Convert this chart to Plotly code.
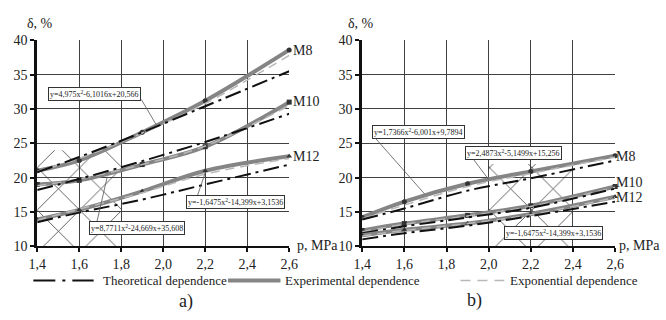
import plotly.graph_objects as go

W, H = 666, 320
FONT = "Liberation Serif"

# ---------------- data ----------------
pressure = [1.4, 1.6, 1.9, 2.2, 2.6]
grades = ["M8", "M10", "M12"]
x_ticks = [1.4, 1.6, 1.8, 2.0, 2.2, 2.4, 2.6]
x_ticktext = ["1,4", "1,6", "1,8", "2,0", "2,2", "2,4", "2,6"]
y_ticks = [10, 15, 20, 25, 30, 35, 40]

# panel a)
a_exp_M8 = [21.0, 22.5, 26.6, 31.2, 38.6]
a_exp_M10 = [19.0, 19.6, 21.9, 24.5, 31.0]
a_exp_M12 = [13.9, 15.3, 18.0, 21.0, 23.1]
a_theo_M8 = [20.8, 23.0, 26.6, 30.4, 35.5]
a_theo_M10 = [18.2, 19.8, 22.4, 25.2, 29.3]
a_theo_M12 = [13.5, 14.9, 16.8, 19.0, 21.9]
a_expo_M8 = [20.9, 22.8, 26.5, 30.8, 37.8]
a_expo_M10 = [18.8, 19.8, 21.9, 24.6, 30.5]
a_expo_M12 = [13.8, 15.4, 17.8, 20.5, 22.8]

# panel b)
b_exp_M8 = [14.2, 16.5, 19.1, 20.9, 23.2]
b_exp_M10 = [12.3, 13.3, 14.5, 15.9, 18.7]
b_exp_M12 = [11.6, 12.4, 13.3, 14.7, 17.2]
b_theo_M8 = [13.9, 15.5, 18.1, 19.9, 22.5]
b_theo_M10 = [11.9, 12.9, 14.2, 15.6, 18.4]
b_theo_M12 = [11.0, 11.9, 13.0, 14.4, 16.5]
b_expo_M8 = [14.0, 16.0, 18.7, 20.6, 23.0]
b_expo_M10 = [12.1, 13.2, 14.4, 15.8, 18.6]
b_expo_M12 = [11.5, 12.3, 13.3, 14.6, 17.1]

# hatched zones (p_min, p_max, delta_min, delta_max)
zone_a = [1.4, 1.8, 10, 24]
zone_b = [2.0, 2.4, 10, 22]

eq_a = ["y=4,975x<sup>2</sup>-6,1016x+20,566",
        "y=8,7711x<sup>2</sup>-24,669x+35,608",
        "y=-1,6475x<sup>2</sup>-14,399x+3,1536"]
eq_b = ["y=1,7366x<sup>2</sup>-6,001x+9,7894",
        "y=2,4873x<sup>2</sup>-5,1499x+15,256",
        "y=-1,6475x<sup>2</sup>-14,399x+3,1536"]

legend_names = ["Theoretical dependence", "Experimental dependence", "Exponential dependence"]

# ---------------- styles ----------------
EXP_COLOR = "#858585"
THEO_COLOR = "#111111"
EXPO_COLOR = "#b8b8b8"
THEO_DASH = "16px,5px,3px,5px"
EXPO_DASH = "9px,6px"
symbols = {"M8": "circle", "M10": "square", "M12": "triangle-up"}


def px(x):
    return x / W


def py(y):
    return 1 - y / H


fig = go.Figure()


def add_zone(zone, xa, ya):
    x0, x1, y0, y1 = zone
    fig.add_trace(go.Scatter(
        x=[x0, x1, x1, x0, x0], y=[y0, y0, y1, y1, y0],
        mode="lines", line=dict(width=0), fill="toself",
        fillcolor="rgba(255,255,255,0.01)",
        fillpattern=dict(shape="x", size=30, solidity=0.05, fgopacity=1,
                         fgcolor="#333333", bgcolor="rgba(255,255,255,0.01)"),
        xaxis=xa, yaxis=ya, showlegend=False, hoverinfo="skip"))


def add_panel(exp, theo, expo, xa, ya):
    for g, e, t, x in zip(grades, exp, theo, expo):
        fig.add_trace(go.Scatter(
            x=pressure, y=e, mode="lines+markers", line=dict(color=EXP_COLOR, width=4, shape="spline"),
            marker=dict(symbol=symbols[g], size=5, color="#333333"),
            xaxis=xa, yaxis=ya, showlegend=False, cliponaxis=False, hoverinfo="skip"))
        fig.add_trace(go.Scatter(
            x=pressure, y=x, mode="lines", line=dict(color=EXPO_COLOR, width=1.5, dash=EXPO_DASH, shape="spline"),
            xaxis=xa, yaxis=ya, showlegend=False, cliponaxis=False, hoverinfo="skip"))
        fig.add_trace(go.Scatter(
            x=pressure, y=t, mode="lines", line=dict(color=THEO_COLOR, width=2, dash=THEO_DASH, shape="spline"),
            xaxis=xa, yaxis=ya, showlegend=False, cliponaxis=False, hoverinfo="skip"))


add_zone(zone_a, "x", "y")
add_zone(zone_b, "x2", "y2")
add_panel([a_exp_M8, a_exp_M10, a_exp_M12], [a_theo_M8, a_theo_M10, a_theo_M12],
          [a_expo_M8, a_expo_M10, a_expo_M12], "x", "y")
add_panel([b_exp_M8, b_exp_M10, b_exp_M12], [b_theo_M8, b_theo_M10, b_theo_M12],
          [b_expo_M8, b_expo_M10, b_expo_M12], "x2", "y2")

ydom = [py(251), py(35)]
axis_common = dict(
    showgrid=True, gridcolor="#404040", gridwidth=1,
    showline=True, linecolor="#111111", ticks="outside", ticklen=4, tickwidth=1.5,
    tickcolor="#111111", tickfont=dict(family=FONT, size=14, color="#222222"),
    zeroline=False, fixedrange=True)

fig.update_layout(
    width=W, height=H, autosize=False,
    margin=dict(l=0, r=0, t=0, b=0),
    paper_bgcolor="white", plot_bgcolor="white",
    font=dict(family=FONT, size=14, color="#222222"),
    xaxis=dict(domain=[px(29), px(288)], range=[1.4, 2.6], tickvals=x_ticks, ticktext=x_ticktext,
               linewidth=2, anchor="y", **axis_common),
    yaxis=dict(domain=ydom, range=[10, 40], tickvals=y_ticks, linewidth=3, anchor="x", **axis_common),
    xaxis2=dict(domain=[px(363), px(623)], range=[1.4, 2.6], tickvals=x_ticks, ticktext=x_ticktext,
                linewidth=2, anchor="y2", **axis_common),
    yaxis2=dict(domain=ydom, range=[10, 40], tickvals=y_ticks, linewidth=3, anchor="x2", **axis_common),
    showlegend=False,
)

ann = []
shapes = []


def text(x, y, s, size=14, xanchor="left", **kw):
    ann.append(dict(x=px(x), y=py(y), xref="paper", yref="paper", text=s, showarrow=False,
                    xanchor=xanchor, yanchor="middle",
                    font=dict(family=FONT, size=size, color="#222222"), **kw))


def line(x0, y0, x1, y1, color="#555555", width=0.8, dash=None):
    shapes.append(dict(type="line", xref="paper", yref="paper", x0=px(x0), y0=py(y0), x1=px(x1), y1=py(y1),
                       line=dict(color=color, width=width, dash=dash), layer="above"))


def box(cx, cy, s):
    ann.append(dict(x=px(cx), y=py(cy), xref="paper", yref="paper", text=s, showarrow=False,
                    xanchor="center", yanchor="middle", bgcolor="white", bordercolor="#333333",
                    borderwidth=1, borderpad=1, font=dict(family=FONT, size=8, color="#222222")))


# axis titles
text(16, 17, "δ, %")
text(346, 17, "δ, %")
text(294, 250, "p, MPa")
text(625, 250, "p, MPa")

# grade labels
text(290, 46, "M8")
text(290, 99, "M10")
text(290, 157, "M12")
text(622, 157, "M8")
text(622, 184, "M10")
text(622, 200, "M12")

# equation boxes with pointers
line(136, 97, 151, 123)
line(90, 227, 101, 178)
line(193, 200, 202, 173)
line(376, 137, 427, 196)
line(476, 158, 493, 181)
box(88, 91, eq_a[0])
box(132, 232, eq_a[1])
box(233, 205, eq_a[2])
box(421, 131, eq_b[0])
box(518, 153, eq_b[1])
box(560, 237, eq_b[2])

# legend
line(25, 287, 87, 287, color=THEO_COLOR, width=2, dash="22px,7px,3px,7px")
line(225, 287, 279, 287, color=EXP_COLOR, width=4)
line(464, 287, 509, 287, color=EXPO_COLOR, width=1.5, dash="10px,7px")
text(95, 287, legend_names[0], size=13)
text(282, 287, legend_names[1], size=13)
text(513, 287, legend_names[2], size=13)

# panel letters
text(182, 309, "a)", size=18, xanchor="center")
text(478, 308, "b)", size=18, xanchor="center")

fig.update_layout(annotations=ann, shapes=shapes)
fig.write_html("out.html")
